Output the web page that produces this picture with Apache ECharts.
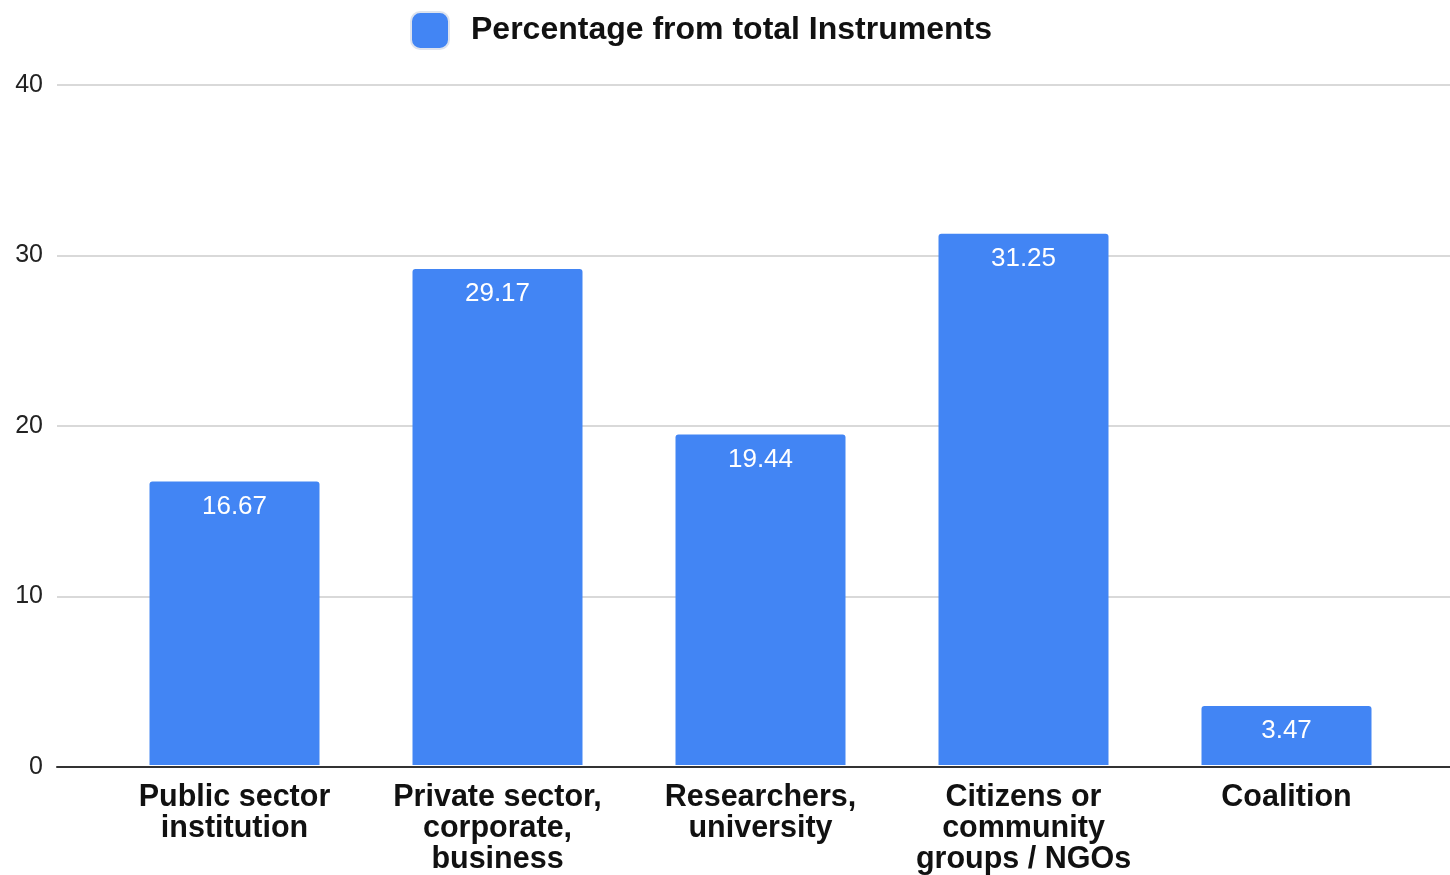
<!DOCTYPE html>
<html>
<head>
<meta charset="utf-8">
<style>
  html, body { margin: 0; padding: 0; background: #fff; }
  #chart { width: 1450px; height: 875px; }
</style>
<script src="https://cdn.jsdelivr.net/npm/echarts@6/dist/echarts.min.js"></script>
</head>
<body>
<div id="chart"></div>
<script>
const categories = [
  "Public sector\ninstitution",
  "Private sector,\ncorporate,\nbusiness",
  "Researchers,\nuniversity",
  "Citizens or\ncommunity\ngroups / NGOs",
  "Coalition"
];
const seriesName = "Percentage from total Instruments";
const values = [16.67, 29.17, 19.44, 31.25, 3.47];
const yTicks = { min: 0, max: 40, interval: 10 };

const FONT = "'Liberation Sans', Arial, sans-serif";
const chart = echarts.init(document.getElementById('chart'));
chart.setOption({
  animation: false,
  backgroundColor: '#ffffff',
  textStyle: { fontFamily: FONT },
  legend: {
    top: 6,
    left: 405,
    itemWidth: 38,
    itemHeight: 37,
    icon: 'roundRect',
    itemStyle: { borderColor: '#dde3ee', borderWidth: 2 },
    textStyle: { fontSize: 32, fontWeight: 'bold', color: '#111', fontFamily: FONT, padding: [2, 0, 0, 17] },
    data: [seriesName]
  },
  grid: [
    { left: 57, right: 0, top: 85, bottom: 108 },
    { left: 103, right: 32, top: 85, bottom: 108 }
  ],
  xAxis: [
    {
      gridIndex: 0, type: 'value', min: 0, max: 1,
      axisLine: { show: true, lineStyle: { color: '#333', width: 2 } },
      axisTick: { show: false }, axisLabel: { show: false }, splitLine: { show: false }
    },
    {
      gridIndex: 1, type: 'category', data: categories,
      axisLine: { show: false }, axisTick: { show: false },
      axisLabel: {
        interval: 0, margin: 17, fontSize: 30.5, fontWeight: 'bold', color: '#111',
        lineHeight: 31, fontFamily: FONT, align: 'center'
      }
    }
  ],
  yAxis: [
    {
      gridIndex: 0, type: 'value', min: yTicks.min, max: yTicks.max, interval: yTicks.interval,
      axisLine: { show: false }, axisTick: { show: false },
      axisLabel: { margin: 14, fontSize: 25, color: '#222', fontFamily: FONT },
      splitLine: { lineStyle: { color: '#cccccc', width: 1.5 } }
    },
    {
      gridIndex: 1, type: 'value', min: yTicks.min, max: yTicks.max, interval: yTicks.interval,
      show: false, splitLine: { show: false }
    }
  ],
  series: [{
    name: seriesName,
    type: 'bar',
    xAxisIndex: 1, yAxisIndex: 1,
    data: values,
    barWidth: 170,
    itemStyle: { color: '#4285f4', borderRadius: [3, 3, 0, 0] },
    label: {
      show: true, position: 'insideTop', distance: 12,
      color: '#ffffff', fontSize: 26, fontFamily: FONT,
      formatter: p => p.value.toFixed(2)
    }
  }]
});
</script>
</body>
</html>
